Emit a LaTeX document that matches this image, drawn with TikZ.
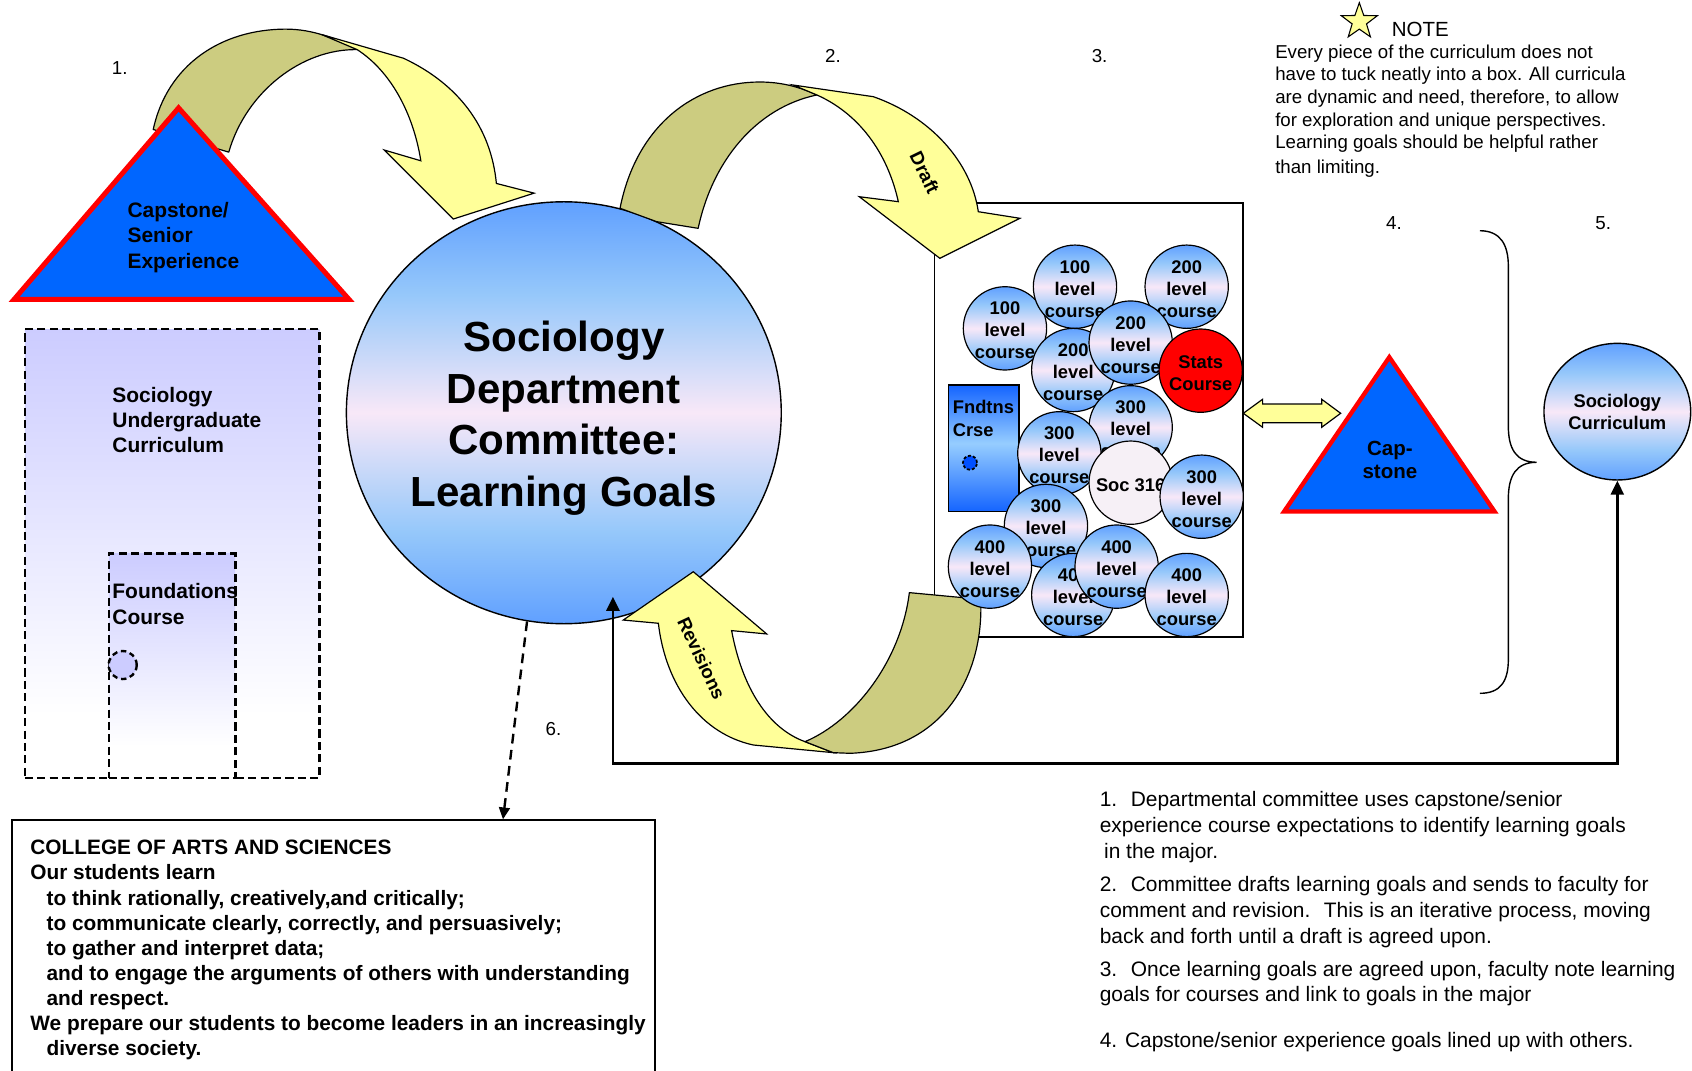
\documentclass[tikz,border=0pt]{standalone}
\usepackage{fontspec}
\setmainfont{Liberation Sans}
\usetikzlibrary{shapes.geometric,arrows.meta,calc}
\definecolor{olv}{RGB}{204,204,128}
\definecolor{ylw}{RGB}{255,255,153}
\definecolor{triB}{RGB}{0,102,255}
\definecolor{bubB}{RGB}{96,160,255}
\definecolor{bubM}{RGB}{150,200,250}
\definecolor{bubP}{RGB}{248,232,248}
\definecolor{fB}{RGB}{20,100,255}
\definecolor{fL}{RGB}{150,205,255}
\definecolor{lav}{RGB}{204,204,255}
\definecolor{socW}{RGB}{246,240,246}
\pgfdeclareverticalshading{bubble}{100bp}{color(0bp)=(bubB); color(25bp)=(bubB); color(36bp)=(bubM); color(50bp)=(bubP); color(64bp)=(bubM); color(75bp)=(bubB); color(100bp)=(bubB)}
\pgfdeclareverticalshading{fndt}{100bp}{color(0bp)=(fB); color(25bp)=(fB); color(52bp)=(fL); color(75bp)=(fB); color(100bp)=(fB)}
\pgfdeclareverticalshading{lavsh}{100bp}{color(0bp)=(white); color(32bp)=(white); color(75bp)=(lav); color(100bp)=(lav)}
\begin{document}
\begin{tikzpicture}[x=1pt,y=-1pt,
  lbl/.style={align=center, inner sep=0pt, yshift=-2pt, font=\fontsize{17}{20.4}\selectfont\bfseries},
  crsb/.style={circle, draw=black, line width=1.1pt, minimum size=77.2pt, inner sep=0pt, label={[lbl]center:#1}},
  crs/.style={crsb={#1}, shading=bubble},
  ribO/.style={fill=olv, draw=black, line width=1.1pt, line join=round},
  ribY/.style={fill=ylw, draw=black, line width=1.1pt, line join=miter},
  numlbl/.style={font=\fontsize{17.4}{20}\selectfont, inner sep=0pt},
  body/.style={anchor=west, align=left, inner sep=0pt, font=\fontsize{19.4}{24}\selectfont},
  tri/.style={fill=triB, draw=red, line join=miter},
  dashbox/.style={draw=black, line width=2.4pt, dash pattern=on 7.5pt off 4pt, shading=lavsh, inner sep=0pt},
  bold/.style={anchor=west, align=left, inner sep=0pt, font=\fontsize{19.4}{23}\selectfont\bfseries},
  bigtxt/.style={align=center, inner sep=0pt, yshift=-5pt, font=\fontsize{39}{47.7}\selectfont\bfseries}
]
\useasboundingbox (0,0) rectangle (1568,992);

% left curriculum boxes
\node[dashbox, minimum width=273pt, minimum height=416pt] (ugrad) at (159.5,513) {};
\node[dashbox, minimum width=117pt, minimum height=208pt] (found) at (159.5,617) {};
\node[circle, draw=black, fill=lav, line width=2.2pt, dash pattern=on 5pt off 3.5pt, minimum size=26pt, inner sep=0pt] (fdot) at (113.7,616.3) {};
\node[bold] (ugradT) at (104,389.5) {Sociology\\Undergraduate\\Curriculum};
\node[bold, font=\fontsize{19.4}{24}\selectfont\bfseries] (foundT) at (104,559.5) {Foundations\\Course};

% big committee circle
\node[ellipse, draw=black, line width=1.3pt, shading=bubble, minimum width=403pt, minimum height=391pt, inner sep=0pt, label={[bigtxt]center:Sociology\\Department\\Committee:\\Learning Goals}] (committee) at (522.5,382.5) {};

% arrow 1
\path[ribO] (142,120) .. controls (155,60) and (205,27) .. (265,27) .. controls (290,27) and (312,36) .. (331,46) .. controls (280,45) and (228,85) .. (212,141) -- cycle;
\path[ribY] (298,32) -- (374,54) .. controls (425,78) and (455,118) .. (460,170) -- (495,179) -- (420,203) -- (356,139) -- (390,149) .. controls (383,105) and (362,66) .. (331,46) -- cycle;

% capstone triangle 1
\path[tri, line width=4.6pt] (165.5,100) -- (323.5,277.5) -- (13,277.5) -- cycle;
\node[bold, font=\fontsize{19.4}{23.5}\selectfont\bfseries] (capT) at (118,220) {Capstone/\\Senior\\Experience};

% course rectangle
\node[draw=black, line width=1.2pt, minimum width=286pt, minimum height=402.3pt, inner sep=0pt] (crsrect) at (1009,389.15) {};

% draft arrow
\path[ribO] (574.6,193) .. controls (590,115) and (645,76) .. (704,76) .. controls (725,76) and (742,81) .. (757,88) .. controls (700,100) and (660,150) .. (647,211.6) -- (608.5,205.4) -- cycle;
\path[ribY] (735,78.8) -- (809.3,89.6) .. controls (862,108) and (900,150) .. (906.6,196.2) -- (945.2,202.3) -- (871,239.4) -- (796.3,182.3) -- (832.5,186.9) .. controls (822,140) and (795,105) .. (757,88) -- cycle;
\node[rotate=-64, inner sep=0pt, font=\fontsize{17.5}{20}\selectfont\bfseries] (draftT) at (857,160) {Draft};

% revisions arrow
\path[ribY] (678,584.4) .. controls (688,638) and (712,675) .. (746,687.3) -- (772.2,697.5) -- (698.1,690.4) .. controls (650,680) and (617,636) .. (610.1,577.6) -- (577.6,574.6) -- (642.5,529.8) -- (710.5,587.5) -- cycle;
\path[ribO] (746,687.3) .. controls (792,668) and (835,612) .. (842.7,549.2) -- (908.8,555.4) .. controls (912,625) and (875,695) .. (787.7,698.1) -- (772.2,697.5) -- cycle;
\node[rotate=-65, inner sep=0pt, font=\fontsize{17.3}{20}\selectfont\bfseries] (revT) at (650.2,610) {Revisions};

% foundations box in course rectangle
\node[draw=black, line width=1.1pt, shading=fndt, minimum width=65.5pt, minimum height=117.4pt, inner sep=0pt] (fnd) at (911.55,415.5) {};
\node[circle, draw=black, fill={rgb,255:red,0;green,80;blue,255}, line width=1.6pt, dash pattern=on 2.8pt off 1.8pt, minimum size=13pt, inner sep=0pt] (fnddot) at (898.9,428.8) {};
\node[anchor=west, align=left, inner sep=0pt, font=\fontsize{17}{21.7}\selectfont\bfseries] (fndT) at (882.8,387.7) {Fndtns\\Crse};

% course circles
\node[crs={100\\level\\course}] (c100a) at (931.3,304.3) {};
\node[crs={100\\level\\course}] (c100b) at (996.2,265.7) {};
\node[crs={200\\level\\course}] (c200a) at (1099.7,265.7) {};
\node[crs={200\\level\\course}] (c200b) at (994.6,342.9) {};
\node[crs={200\\level\\course}] (c200c) at (1047.8,317.5) {};
\node[crsb={Stats\\Course}, fill=red] (stats) at (1112.7,343.5) {};
\node[crs={300\\level\\course}] (c300a) at (1047.8,396) {};
\node[crs={300\\level\\course}] (c300b) at (981.7,420.1) {};
\node[crsb={Soc 316}, fill=socW] (soc316) at (1047.8,447.3) {};
\node[crs={300\\level\\course}] (c300c) at (1113.6,460.3) {};
\node[crs={300\\level\\course}] (c300d) at (969.3,487.4) {};
\node[crs={400\\level\\course}] (c400a) at (994.6,551.4) {};
\node[crs={400\\level\\course}] (c400b) at (917.4,525.1) {};
\node[crs={400\\level\\course}] (c400c) at (1034.8,525.1) {};
\node[crs={400\\level\\course}] (c400d) at (1099.7,551.4) {};

% double arrow
\path[fill=ylw, draw=black, line width=1.1pt] (1152.2,383) -- (1170.1,370) -- (1170.1,374.4) -- (1224.8,374.4) -- (1224.8,370) -- (1242.4,383) -- (1224.8,396) -- (1224.8,391.7) -- (1170.1,391.7) -- (1170.1,396) -- cycle;

% capstone triangle 2
\path[tri, line width=4pt] (1287.5,331) -- (1385,474) -- (1190,474) -- cycle;
\node[align=center, inner sep=0pt, font=\fontsize{19}{21.6}\selectfont\bfseries] (cap2T) at (1288,426.3) {Cap-\\stone};

% brace
\draw[line width=1.3pt] (1371.5,213.8) .. controls (1390,214) and (1397.8,226) .. (1397.8,247) -- (1397.8,395) .. controls (1397.8,416) and (1405,428.4) .. (1424,428.4) .. controls (1405,428.4) and (1397.8,441) .. (1397.8,462) -- (1397.8,611) .. controls (1397.8,632) and (1390,642.5) .. (1371.5,642.5);

% sociology curriculum
\node[ellipse, draw=black, line width=1.3pt, shading=bubble, minimum width=136pt, minimum height=126.6pt, inner sep=0pt, align=center, font=\fontsize{17}{20}\selectfont\bfseries] (soccur) at (1498.8,381.5) {Sociology\\Curriculum};

% college box
\node[draw=black, line width=1.4pt, minimum width=596pt, minimum height=250pt, inner sep=0pt] (college) at (309,885) {};
\node[anchor=west, align=left, inner sep=0pt, font=\fontsize{19.3}{23.25}\selectfont\bfseries] (collegeT) at (28,880.5) {COLLEGE OF ARTS AND SCIENCES\\Our students learn\\\hspace*{15pt}to think rationally, creatively,and critically;\\\hspace*{15pt}to communicate clearly, correctly, and persuasively;\\\hspace*{15pt}to gather and interpret data;\\\hspace*{15pt}and to engage the arguments of others with understanding\\\hspace*{15pt}and respect.\\We prepare our students to become leaders in an increasingly\\\hspace*{15pt}diverse society.};

% connectors
\coordinate (revTip) at (568,553);
\draw[line width=2.3pt, {Triangle[length=13pt,width=12pt]}-{Triangle[length=13pt,width=12pt]}] (revTip) -- ++(0,154.5) -| (soccur.south);
\draw[line width=2.2pt, dash pattern=on 9pt off 6pt, -{Triangle[length=11pt,width=10pt]}] (committee.260) -- ($(college.north west)!0.763!(college.north east)$);

% note
\node[star, star points=5, star point ratio=2.5, draw=black, line width=1pt, fill=ylw, minimum size=35pt, inner sep=0pt] (star) at (1259.7,20) {};
\node[anchor=west, inner sep=0pt, font=\fontsize{19}{22}\selectfont] (noteH) at (1289.6,27) {NOTE};
\node[anchor=west, align=left, inner sep=0pt, font=\fontsize{17.3}{21}\selectfont] (noteT) at (1181.6,103) {Every piece of the curriculum does not\\have to tuck neatly into a box. All curricula\\are dynamic and need, therefore, to allow\\for exploration and unique perspectives.\\Learning goals should be helpful rather\\[2pt]than limiting.};

% step numbers
\node[numlbl] (n1) at (111,63) {1.};
\node[numlbl] (n2) at (772,52) {2.};
\node[numlbl] (n3) at (1019,52) {3.};
\node[numlbl] (n4) at (1291.8,207) {4.};
\node[numlbl] (n5) at (1485.8,207) {5.};
\node[numlbl] (n6) at (513,676) {6.};

% explanation
\node[body] (e1) at (1019,766.5) {1.~ Departmental committee uses capstone/senior\\experience course expectations to identify learning goals\\\hspace*{4pt}in the major.};
\node[body] (e2) at (1019,845.5) {2.~ Committee drafts learning goals and sends to faculty for\\comment and revision.~ This is an iterative process, moving\\back and forth until a draft is agreed upon.};
\node[body] (e3) at (1019,911.5) {3.~ Once learning goals are agreed upon, faculty note learning\\goals for courses and link to goals in the major};
\node[body] (e4) at (1019,965.5) {4. Capstone/senior experience goals lined up with others.};
\end{tikzpicture}
\end{document}
